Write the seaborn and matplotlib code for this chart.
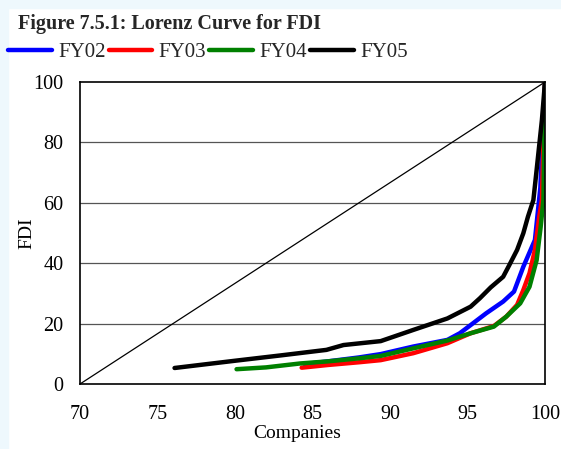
import pandas as pd
import matplotlib
matplotlib.use("Agg")
import matplotlib.pyplot as plt
import seaborn as sns
from matplotlib.patches import Rectangle

# values (cumulative % companies vs cumulative % FDI)
fy02_x = [84.5, 86.0, 88.0, 89.4, 91.5, 93.7, 94.5, 95.2, 96.2, 97.3, 98.0, 98.6, 99.35, 99.7, 100.0]
fy02_y = [6.6, 7.5, 8.8, 9.9, 12.4, 14.6, 16.8, 19.5, 23.4, 27.3, 30.6, 38.8, 47.7, 65.0, 100.0]

fy03_x = [84.3, 86.0, 88.0, 89.4, 91.5, 93.7, 95.2, 96.7, 97.5, 98.2, 98.6, 99.0, 99.35, 99.63, 99.8, 100.0]
fy03_y = [5.4, 6.3, 7.2, 7.9, 10.2, 13.5, 16.8, 19.2, 22.3, 26.2, 31.1, 36.7, 44.4, 55.4, 61.0, 100.0]

fy04_x = [80.1, 82.0, 84.2, 86.0, 88.0, 89.4, 91.5, 93.7, 95.2, 96.7, 97.5, 98.4, 99.0, 99.46, 99.72, 99.9, 100.0]
fy04_y = [4.9, 5.5, 6.8, 7.5, 8.5, 9.3, 11.8, 14.4, 16.8, 19.0, 22.3, 26.7, 32.2, 41.0, 52.0, 61.0, 100.0]

fy05_x = [76.1, 80.0, 83.0, 85.9, 87.0, 89.4, 91.5, 93.7, 95.2, 95.8, 96.5, 97.3, 97.7, 98.2, 98.6, 98.9, 99.25, 99.46, 99.8, 100.0]
fy05_y = [5.3, 7.7, 9.5, 11.3, 12.9, 14.2, 17.9, 21.7, 25.6, 28.4, 32.0, 35.5, 39.4, 44.4, 49.9, 55.4, 60.9, 70.9, 87.4, 100.0]

equal_x = [70, 100]
equal_y = [0, 100]

series = {"FY02": (fy02_x, fy02_y), "FY03": (fy03_x, fy03_y),
          "FY04": (fy04_x, fy04_y), "FY05": (fy05_x, fy05_y)}
colors = ["#0000ff", "#ff0000", "#008000", "#000000"]
rows = []
for name, (xs, ys) in series.items():
    for a, b in zip(xs, ys):
        rows.append({"Companies": a, "FDI": b, "Year": name})
df = pd.DataFrame(rows)

sns.set_theme(style="white")
plt.rcParams["font.family"] = ["Liberation Serif", "DejaVu Serif"]

fig = plt.figure(figsize=(5.61, 4.49), dpi=100, facecolor="white")
# light blue strips on the top and left edges
fig.patches.append(Rectangle((0, 0), 8 / 561, 1, transform=fig.transFigure, color="#eef8fd", zorder=0))
fig.patches.append(Rectangle((0, 1 - 8 / 449), 1, 8 / 449, transform=fig.transFigure, color="#eef8fd", zorder=0))

ax = fig.add_axes([80 / 561, 65 / 449, 465 / 561, 302 / 449])

ax.plot(equal_x, equal_y, color="black", lw=0.9)
sns.lineplot(data=df, x="Companies", y="FDI", hue="Year", estimator=None, sort=False,
             palette=colors, linewidth=3.2, ax=ax, legend=False)

ax.set_xlim(70, 100)
ax.set_ylim(0, 100)
ax.set_xticks([70, 75, 80, 85, 90, 95, 100])
ax.set_yticks([0, 20, 40, 60, 80, 100])
for g in [20, 40, 60, 80]:
    ax.axhline(g, color="#555555", lw=0.9, zorder=0)
for s in ax.spines.values():
    s.set_color("black")
    s.set_linewidth(1.2)
ax.tick_params(axis="both", length=0, labelsize=14.5, colors="black")
ax.tick_params(axis="x", pad=15)
ax.tick_params(axis="y", pad=12)
ax.set_xlabel("Companies", fontsize=14, color="black")
ax.xaxis.set_label_coords(0.468, -0.135)
ax.set_ylabel("FDI", fontsize=14, color="black")
ax.yaxis.set_label_coords(-0.097, 0.5)

fig.text(18 / 561, 1 - 24 / 449, "Figure 7.5.1: Lorenz Curve for FDI", fontsize=14.5,
         fontweight="bold", va="center", ha="left")

handles = [plt.Line2D([], [], color=c, lw=3.2) for c in colors]
fig.legend(handles, list(series.keys()), loc="center left", bbox_to_anchor=(8 / 561, 1 - 52 / 449),
           ncol=4, frameon=False, fontsize=15, handlelength=2.1, handletextpad=0.3,
           columnspacing=0.15, borderaxespad=0, borderpad=0.0)

fig.savefig("out.png", dpi=100, facecolor="white")
